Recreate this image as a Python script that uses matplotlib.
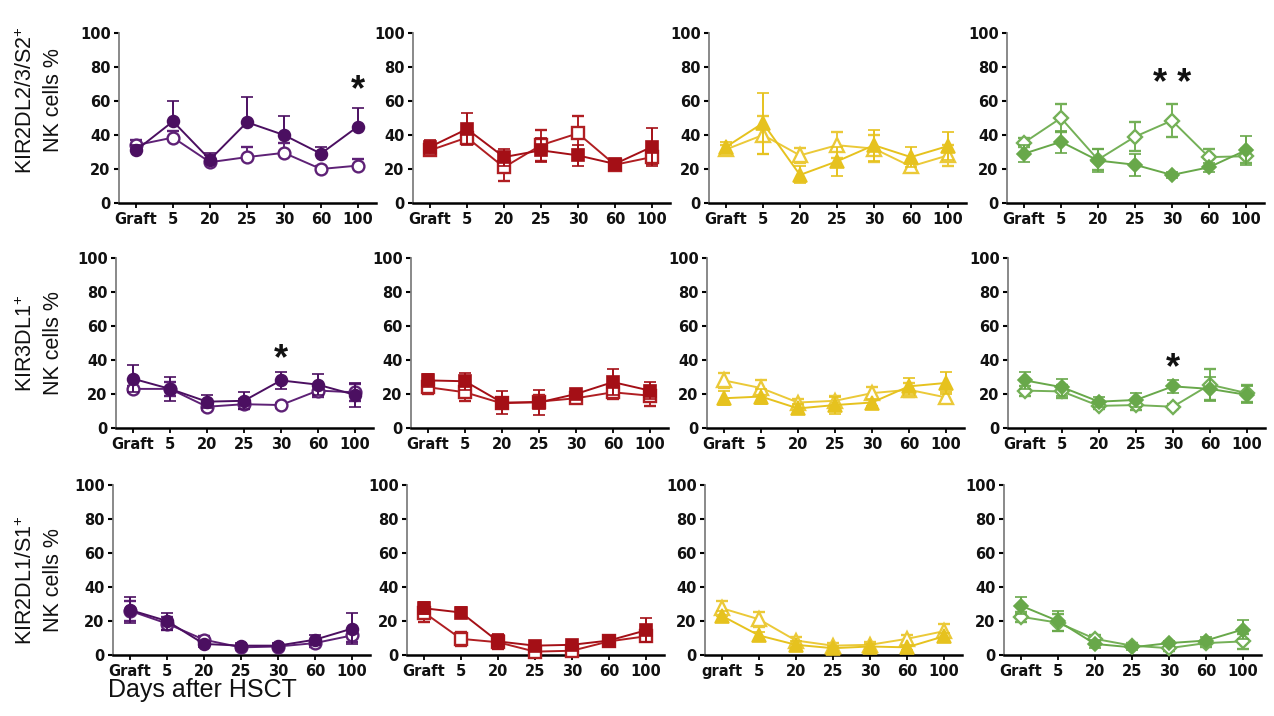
import numpy as np
import matplotlib.pyplot as plt

plt.rcParams['font.family'] = ['Liberation Sans', 'DejaVu Sans']
plt.rcParams['mathtext.fontset'] = 'custom'
plt.rcParams['mathtext.rm'] = 'Liberation Sans'

# x categories (days after HSCT)
days = ["Graft", "5", "20", "25", "30", "60", "100"]
days_alt = ["graft", "5", "20", "25", "30", "60", "100"]

row_labels = ["KIR2DL2/3/S2$^{+}$\nNK cells %",
              "KIR3DL1$^{+}$\nNK cells %",
              "KIR2DL1/S1$^{+}$\nNK cells %"]

# means / error for filled and open symbols, one list per column (4 panels per row)
r1_filled = [[31, 48, 25.5, 47.5, 40, 29, 45],
             [33, 43.5, 27, 31, 28, 23, 33],
             [33, 47, 16.5, 24.5, 34, 27, 33.5],
             [29, 36, 25, 22.5, 16.5, 21, 31]]
r1_filled_err = [[3, 12, 4, 15, 11, 4, 11],
                 [4, 9.5, 5, 7, 6, 3, 11],
                 [3, 18, 5, 8.5, 9, 6, 8],
                 [5, 6.5, 7, 6.5, 1.5, 2.5, 8.5]]
r1_open = [[34, 38.5, 24, 27, 29.5, 20, 22],
           [31, 38.5, 21, 34, 41, 22.5, 27],
           [31.5, 40, 28, 34, 32, 21.5, 28],
           [35.5, 50, 25.5, 39, 48.5, 27, 27.5]]
r1_open_err = [[3, 4, 4, 6, 6, 2, 4],
               [2.5, 3, 8, 9, 10, 2.5, 4],
               [2.5, 11, 4.5, 7.5, 8, 2, 6],
               [2.5, 8.5, 6, 8.5, 9.5, 5, 4]]

r2_filled = [[29, 23, 15.5, 16, 28, 25.5, 19.5],
             [28, 27.5, 15, 15, 20, 27, 22],
             [17.5, 18.5, 11.5, 13.5, 15, 24.5, 26.5],
             [28, 24, 15.5, 16.5, 24.5, 23, 19.5]]
r2_filled_err = [[8, 7, 4, 5, 5, 6, 7],
                 [4, 5, 7, 7.5, 3, 7.5, 5],
                 [4, 4.5, 2.5, 5, 2, 5, 6.5],
                 [5, 5, 3, 4, 4, 7, 5]]
r2_open = [[23, 23, 12.5, 14, 13.5, 22, 21],
           [24, 21, 14.5, 15.5, 17.5, 21, 19],
           [28, 23.5, 15, 16, 20.5, 22.5, 18],
           [22, 21.5, 13, 13.5, 12.5, 25.5, 20.5]]
r2_open_err = [[2, 4, 2, 3, 1.5, 4, 5],
               [4, 5, 3, 4, 3, 4, 6],
               [4.5, 4.5, 2, 3, 3.5, 4, 3],
               [3, 4, 2, 3, 1.5, 9, 5]]

r3_filled = [[26.5, 20, 6.5, 5.5, 5.5, 9, 15.5],
             [27.5, 25, 8, 5.5, 6, 8.5, 14.5],
             [23, 11.5, 6, 4, 5, 4.5, 11],
             [29, 20, 6.5, 4.5, 7, 8.5, 15]]
r3_filled_err = [[7.5, 5, 2, 1.5, 1.5, 3, 9],
                 [3.5, 3.5, 4.5, 1.5, 1.5, 1.5, 7],
                 [3, 2, 2, 1.5, 1.5, 1.5, 2],
                 [5, 6, 2.5, 1.5, 1.5, 2, 5.5]]
r3_open = [[26, 18.5, 9, 4.5, 5, 7, 11.5],
           [25, 9.5, 7.5, 2, 2.5, 8, 11],
           [27.5, 21, 8.5, 5.5, 6, 9.5, 14],
           [22.5, 19, 9.5, 5.5, 4, 7, 8]]
r3_open_err = [[6, 4, 2, 1.5, 1.5, 2, 4],
               [5.5, 4, 4, 1.5, 1.5, 1.5, 2.5],
               [4.5, 4.5, 2, 1.5, 1.5, 2.5, 4],
               [3, 5, 2.5, 1.5, 1.5, 2, 4.3]]

filled = [r1_filled, r2_filled, r3_filled]
filled_err = [r1_filled_err, r2_filled_err, r3_filled_err]
opened = [r1_open, r2_open, r3_open]
opened_err = [r1_open_err, r2_open_err, r3_open_err]

# significance marks: (row, col, x index, y value, text)
stars = [(0, 0, 6, 66, "*"), (0, 3, 4, 70, "* *"),
         (1, 0, 4, 40, "*"), (1, 3, 4, 35, "*")]

col_colors = [("#4B0F61", "#5E2176"), ("#A40F16", "#B01E22"),
              ("#E6C21E", "#EBC938"), ("#68A84A", "#74B057")]
col_markers = [("o", 8.5), ("s", 9), ("^", 9.5), ("D", 7)]

W, H = 1274, 716
fig = plt.figure(figsize=(W / 100, H / 100), dpi=100)

row_tops = [33, 258, 485]
row_lefts = [[119, 413, 709, 1007], [116, 411, 707, 1008], [113, 407, 705, 1004]]
ax_w, ax_h = 257, 170
x = np.arange(len(days))

for r in range(3):
    for c in range(4):
        left = row_lefts[r][c]
        ax = fig.add_axes([left / W, 1 - (row_tops[r] + ax_h) / H, ax_w / W, ax_h / H])
        fc, oc = col_colors[c]
        mk, ms = col_markers[c]
        f = np.array(filled[r][c])
        fe = np.array(filled_err[r][c])
        o = np.array(opened[r][c])
        oe = np.array(opened_err[r][c])
        if r == 0 and c == 0:
            # first panel shows upper error bars only
            fe = [np.zeros_like(fe), fe]
            oe = [np.zeros_like(oe), oe]
        ax.errorbar(x, o, yerr=oe, color=oc, marker=mk, ms=ms, mfc='white',
                    mec=oc, mew=1.7, lw=1.4, elinewidth=1.4, capsize=4.5,
                    capthick=1.4, clip_on=False, zorder=3)
        ax.errorbar(x, f, yerr=fe, color=fc, marker=mk, ms=ms, mfc=fc,
                    mec=fc, mew=1.2, lw=1.4, elinewidth=1.4, capsize=4.5,
                    capthick=1.4, clip_on=False, zorder=4)
        ax.set_xlim(-0.46, 6.49)
        ax.set_ylim(0, 100)
        ax.set_yticks([0, 20, 40, 60, 80, 100])
        ax.set_xticks(x)
        ax.set_xticklabels(days_alt if (r == 2 and c == 2) else days)
        for lab in ax.get_xticklabels() + ax.get_yticklabels():
            lab.set_fontfamily('DejaVu Sans')
            lab.set_fontweight('bold')
            lab.set_fontsize(10.5)
            lab.set_color('#111111')
        ax.spines['top'].set_visible(False)
        ax.spines['right'].set_visible(False)
        ax.spines['left'].set_color('#808080')
        ax.spines['left'].set_linewidth(1.3)
        ax.spines['bottom'].set_color('black')
        ax.spines['bottom'].set_linewidth(1.8)
        ax.tick_params(axis='y', length=3.5, width=1.5, pad=2.5, color='black')
        ax.tick_params(axis='x', length=3.5, width=1.3, pad=3, color='black')
        ax.set_facecolor('none')

        for sr, sc, si, sy, st in stars:
            if sr == r and sc == c:
                ax.text(si, sy, st, ha='center', va='center', fontsize=26,
                        fontweight='bold', color='#111111', clip_on=False)

label_y = [100, 343, 580]
for r in range(3):
    fig.text(40 / W, 1 - label_y[r] / H, row_labels[r], rotation=90,
             ha='center', va='center', multialignment='center',
             fontsize=15.5, linespacing=1.35, color='#111111')

fig.text(108 / W, 1 - 690 / H, "Days after HSCT", ha='left', va='center',
         fontsize=18, color='#111111')

fig.savefig("out.png", dpi=100)
